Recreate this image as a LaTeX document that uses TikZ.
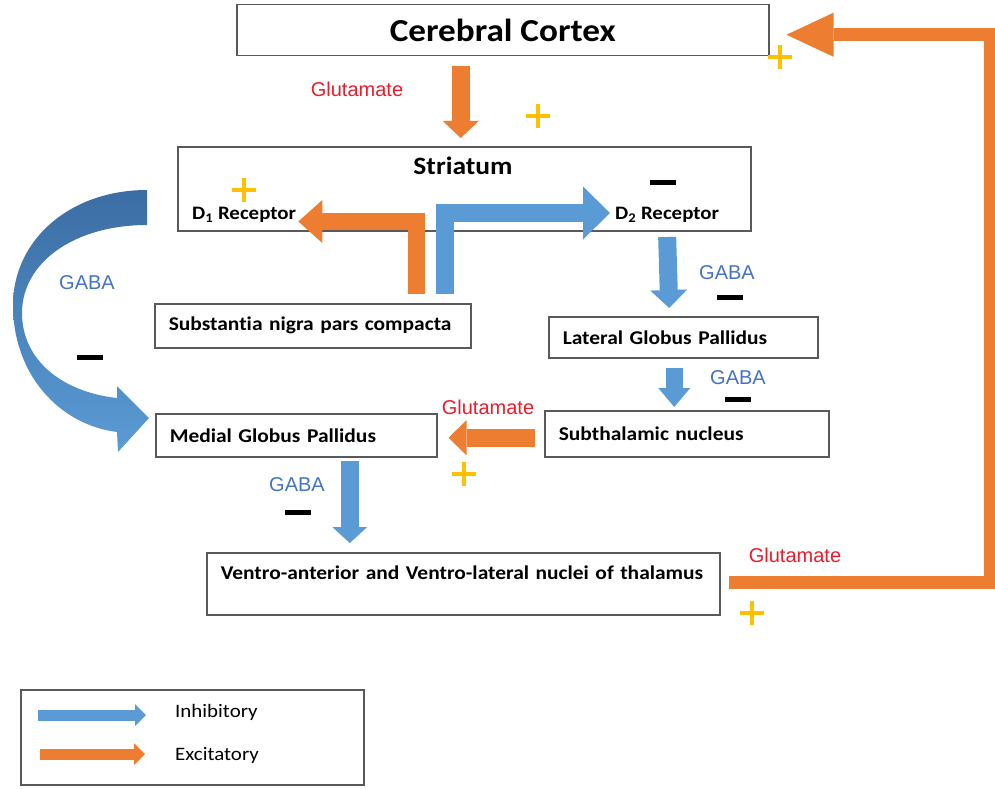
\documentclass[tikz,border=0pt]{standalone}
\usepackage{fontspec}
\setmainfont[FakeStretch=1.1,Ligatures=CommonOff]{Carlito}
\newfontfamily\arialfont{Liberation Sans}
\usepackage{tikz}
\usetikzlibrary{arrows.meta}
\definecolor{exc}{HTML}{ED7D31}
\definecolor{inh}{HTML}{5B9BD5}
\definecolor{inhdark}{HTML}{3B6DA3}
\definecolor{gabatxt}{HTML}{4472C4}
\definecolor{glutxt}{HTML}{EC1C2A}
\definecolor{plusclr}{HTML}{FFC000}
\definecolor{boxline}{HTML}{595959}

\begin{document}
\begin{tikzpicture}[x=1pt,y=-1pt,
  box/.style={draw=boxline,line width=1.5pt,fill=white,anchor=north west,inner xsep=14pt,inner ysep=0pt,align=left,font=\bfseries\fontsize{19.5}{23}\selectfont},
  recep/.style={anchor=west,inner sep=0pt,font=\bfseries\fontsize{19}{22}\selectfont},
  gaba/.style={text=gabatxt,font=\arialfont\fontsize{20}{24}\selectfont},
  glut/.style={text=glutxt,font=\arialfont\fontsize{20}{24}\selectfont},
  inhib/.style={draw=inh,line width=18pt},
  excit/.style={draw=exc,line width=17pt},
  headsize/.style 2 args={-{Triangle[length=#1,width=#2,line width=0pt]}},
  plusmark/.style={draw=plusclr,line width=4.5pt},
  minusmark/.style={draw=black,line width=5pt}]
  \useasboundingbox (0,0) rectangle (995,789);

  % boxes
  \node[box,minimum width=532pt,minimum height=51pt,inner xsep=0pt,align=center,font=\bfseries\fontsize{32}{36}\selectfont] (cortex) at (236,4) {Cerebral Cortex};
  \node[box,minimum width=573pt,minimum height=84pt] (striatum) at (177,146) {};
  \node[font=\bfseries\fontsize{25}{28}\selectfont] (strlabel) at (463,166) {Striatum};
  \node[recep] (d1) at (192,215) {D\textsubscript{1} Receptor};
  \node[recep] (d2) at (615,215) {D\textsubscript{2} Receptor};
  \node[box,text width=288pt,minimum height=44pt] (snc) at (154,303) {Substantia nigra pars compacta};
  \node[box,text width=253pt,minimum height=43pt] (mgp) at (155,413) {Medial Globus Pallidus};
  \node[box,text width=241pt,minimum height=41pt] (lgp) at (548,316) {Lateral Globus Pallidus};
  \node[box,text width=256pt,minimum height=46pt] (stn) at (544,410) {Subthalamic nucleus};
  \node[box,text width=485pt,minimum height=62pt] (thal) at (206,552) {Ventro-anterior and Ventro-lateral nuclei of thalamus\\\mbox{}};

  % curved GABA arrow
  \shade[top color=inhdark,bottom color=inh] (147,190) .. controls (70,190) and (13,240) .. (13,305)
    .. controls (13,375) and (60,425) .. (117,432) -- (118,452) -- (149,418) -- (117,386) -- (117,398)
    .. controls (62,392) and (22,360) .. (22,313) .. controls (22,262) and (75,225) .. (147,225) -- cycle;

  % pathways
  \draw[excit,line width=18pt,headsize={17pt}{36pt}] ([xshift=-42pt,yshift=-10pt]cortex.south) -- ([xshift=-3.5pt,yshift=8pt]striatum.north);
  \draw[excit,headsize={24pt}{43pt}] ([xshift=103.5pt,yshift=9pt]snc.north) |- ([xshift=2pt,yshift=-6.5pt]d1.east);
  \draw[inhib,headsize={27pt}{53pt}] ([xshift=132pt,yshift=9pt]snc.north) |- ([xshift=-5pt,yshift=2pt]d2.west);
  \draw[inhib,headsize={18pt}{37pt}] ([yshift=-22pt]d2.center) -- ([xshift=-14pt,yshift=8pt]lgp.north);
  \draw[inhib,line width=17pt,headsize={19pt}{32pt}] ([xshift=-9pt,yshift=-9pt]lgp.south) -- ([xshift=-12.5pt,yshift=3pt]stn.north);
  \draw[excit,line width=18pt,headsize={18pt}{35pt}] ([xshift=-9pt,yshift=-4pt]stn.west) -- ([xshift=11pt,yshift=-2.5pt]mgp.east);
  \draw[inhib,headsize={16pt}{35pt}] ([xshift=53.5pt,yshift=-3pt]mgp.south) -- ([xshift=-113.5pt,yshift=9pt]thal.north);
  \draw[excit,line width=13pt,headsize={47pt}{44pt}] ([xshift=8pt,yshift=1.5pt]thal.east) -| ([xshift=221pt,yshift=-4.5pt]cortex.east) -- ([xshift=17pt,yshift=-4.5pt]cortex.east);

  % transmitters
  \node[glut] (glu1) at (357,89) {Glutamate};
  \node[glut] (glu2) at (488,407) {Glutamate};
  \node[glut] (glu3) at (795,555) {Glutamate};
  \node[gaba] (gaba1) at (87,283) {GABA};
  \node[gaba] (gaba2) at (727,273) {GABA};
  \node[gaba] (gaba3) at (738,378) {GABA};
  \node[gaba] (gaba4) at (297,485) {GABA};

  % signs
  \foreach \px/\py in {780/57, 538/116, 244/190, 464/474, 752/613}
    \draw[plusmark] (\px-12,\py) -- (\px+12,\py) (\px,\py-12) -- (\px,\py+12);
  \foreach \mx/\my in {663/182, 730/297, 738/399, 298/512, 90/357}
    \draw[minusmark] (\mx-13,\my) -- (\mx+13,\my);

  % legend
  \node[draw=boxline,line width=1.5pt,anchor=north west,minimum width=343pt,minimum height=95pt] (legend) at (20,689) {};
  \node[anchor=base west,inner sep=0pt,font=\fontsize{19}{22}\selectfont] (inhlabel) at (175,717) {Inhibitory};
  \node[anchor=base west,inner sep=0pt,font=\fontsize{19}{22}\selectfont] (exclabel) at (175,760) {Excitatory};
  \draw[inhib,line width=11pt,headsize={11pt}{22pt}] ([xshift=-137pt,yshift=2pt]inhlabel.base west) -- ([xshift=-29pt,yshift=2pt]inhlabel.base west);
  \draw[excit,line width=11pt,headsize={11pt}{22pt}] ([xshift=-135pt,yshift=6pt]exclabel.base west) -- ([xshift=-30pt,yshift=6pt]exclabel.base west);
\end{tikzpicture}
\end{document}
